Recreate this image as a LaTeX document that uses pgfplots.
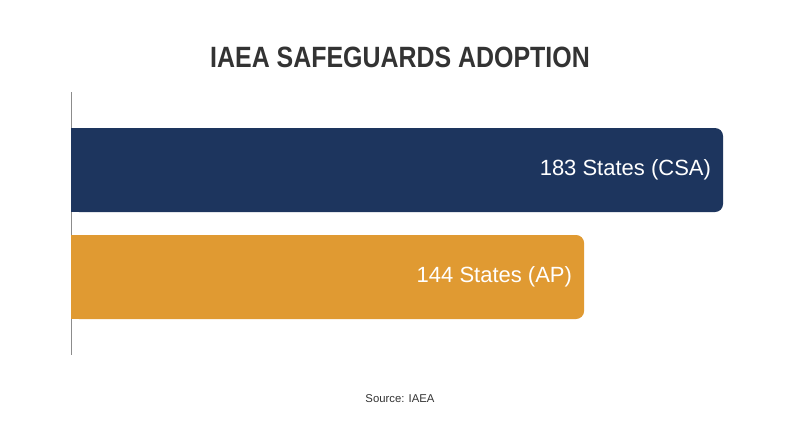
\documentclass[border=0pt]{standalone}
\usepackage{pgfplots}
\pgfplotsset{compat=1.18}
\usepackage{fontspec}
\setmainfont{Liberation Sans}
\newfontfamily\titlefont[FakeStretch=0.85]{Liberation Sans}
\definecolor{navy}{HTML}{1D355E}
\definecolor{amber}{HTML}{E09A32}
\definecolor{titlegray}{HTML}{333333}
\definecolor{axisgray}{HTML}{8C8C8C}
\begin{document}
\begin{tikzpicture}[x=1pt,y=1pt]
  % page: 800x447 px -> 600 x 335.25 pt
  \path[fill=white] (0,0) rectangle (600,335.25);
  \node[font=\titlefont\bfseries\fontsize{22}{26}\selectfont, text=titlegray] at (300,292.5) {IAEA SAFEGUARDS ADOPTION};
  \node[font=\fontsize{8.5}{10}\selectfont, text=titlegray] at (300,36) {Source: IAEA};
  \begin{axis}[
    at={(53.25pt,69pt)}, anchor=south west,
    scale only axis,
    width=489pt, height=197.25pt,
    xmin=0, xmax=183,
    ymin=92, ymax=355, y dir=reverse,
    enlargelimits=false,
    axis x line=none,
    axis y line=left,
    axis line style={-, axisgray, line width=0.75pt},
    ytick=\empty, xtick=\empty,
    clip=false,
    xbar, bar shift=0pt, bar width=84,
  ]
  % rounded bars
  \addplot[fill=navy, draw=none, rounded corners=6pt,
    nodes near coords={183 States (CSA)},
    every node near coord/.style={anchor=east, xshift=-5.5pt, text=white,
      font=\fontsize{16.5}{18}\selectfont}]
    coordinates {(183,170)};
  \addplot[fill=amber, draw=none, rounded corners=6pt,
    nodes near coords={144 States (AP)},
    every node near coord/.style={anchor=east, xshift=-5.5pt, text=white,
      font=\fontsize{16.5}{18}\selectfont}]
    coordinates {(144,277)};
  % square off the left ends
  \addplot[fill=navy, draw=none] coordinates {(20,170)};
  \addplot[fill=amber, draw=none] coordinates {(20,277)};
  \end{axis}
\end{tikzpicture}
\end{document}
